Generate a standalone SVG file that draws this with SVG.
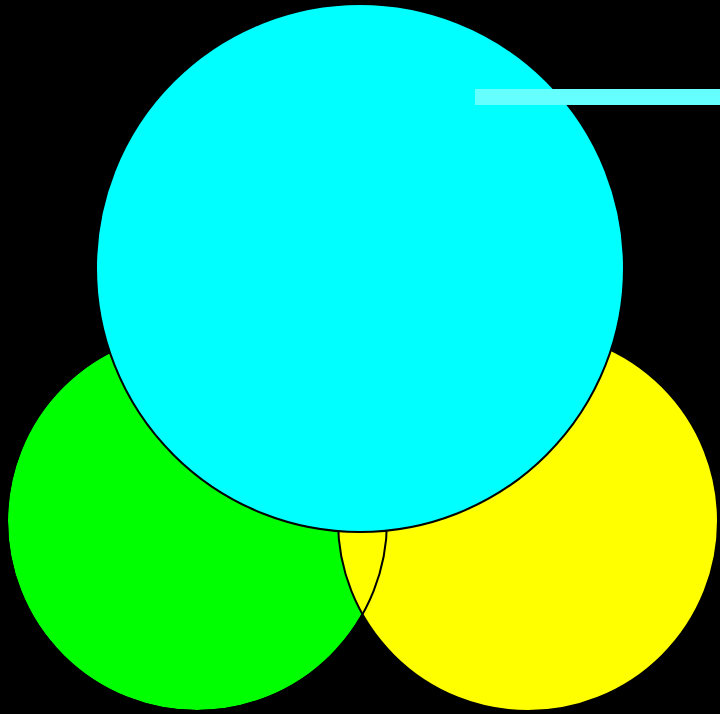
<svg xmlns="http://www.w3.org/2000/svg" width="720" height="714" viewBox="0 0 720 714">
<style>
.c{stroke:#000;stroke-width:2}
</style>
<rect width="720" height="714" fill="#000"/>
<g id="green"><circle class="c" cx="197" cy="521" r="190" fill="#00ff00"/></g>
<g id="yellow"><circle class="c" cx="528" cy="521" r="190" fill="#ffff00"/></g>
<g id="outlines"><circle class="c" cx="197" cy="521" r="190" fill="none"/></g>
<g id="cyan"><circle class="c" cx="360" cy="268" r="264" fill="#00ffff"/></g>
<g id="bar"><rect x="475" y="89" width="245" height="16" fill="#66ffff"/></g>
</svg>
